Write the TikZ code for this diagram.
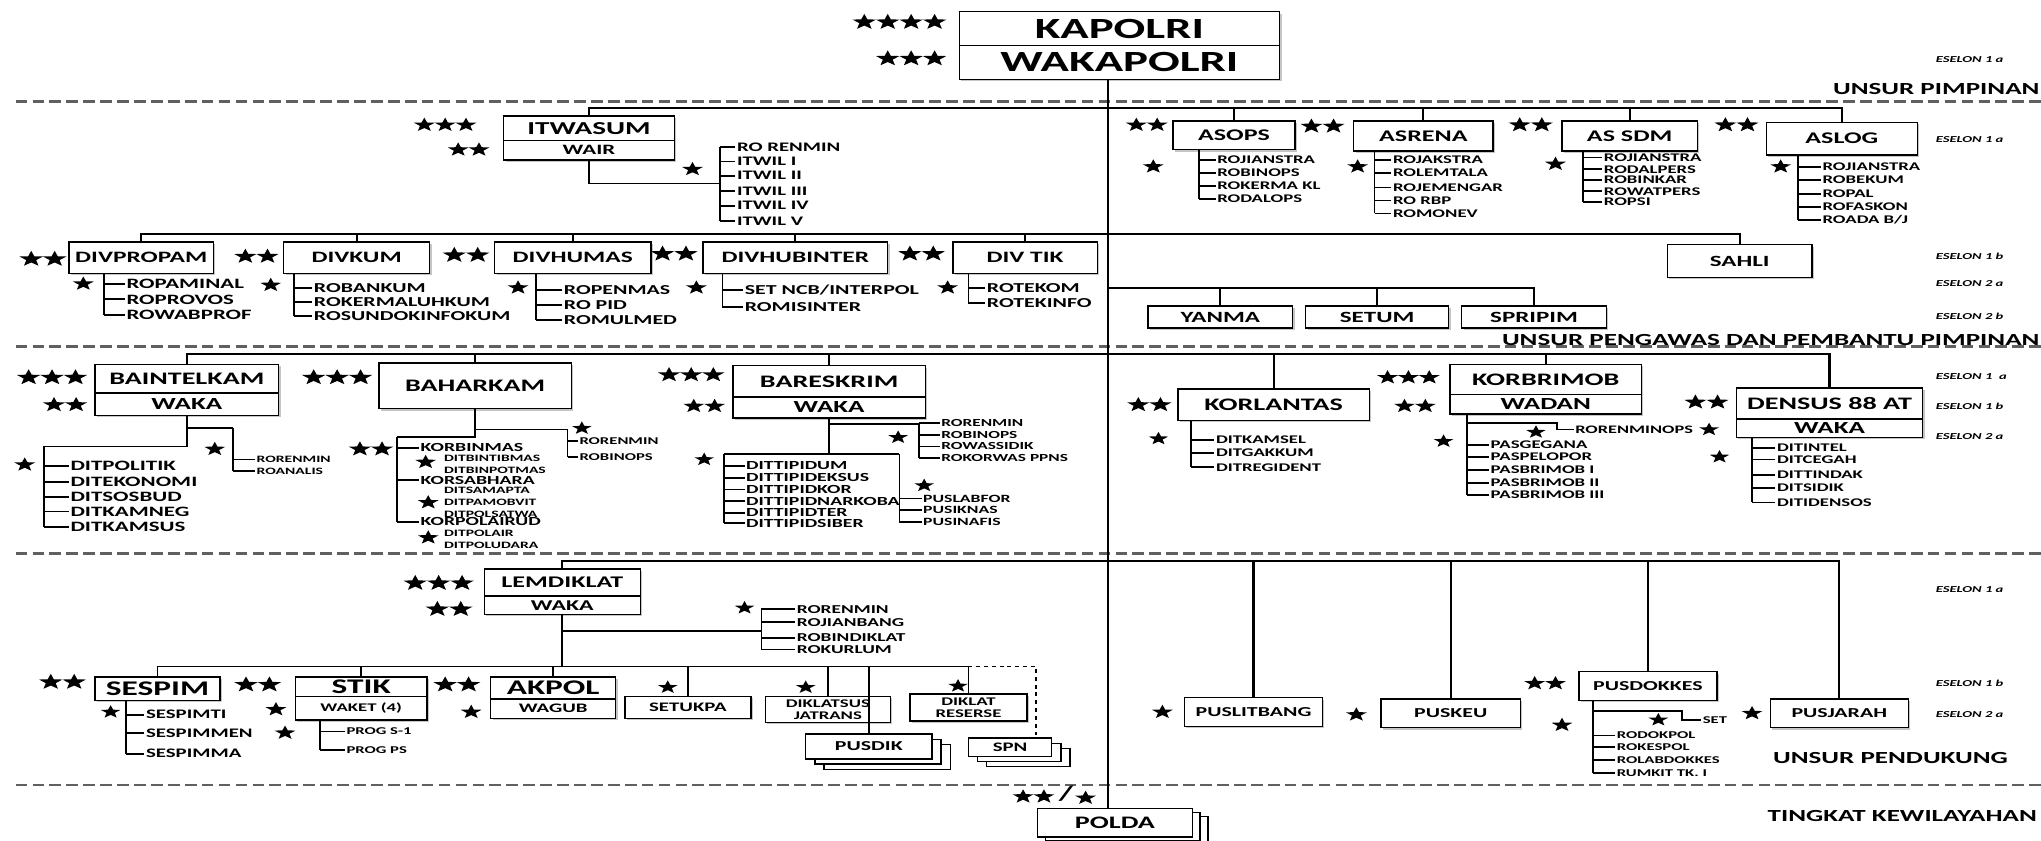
\documentclass[tikz,border=0pt]{standalone}
\usepackage{fontspec}
\usetikzlibrary{shadows}
\newfontfamily\cf{Carlito}[FakeStretch=1.6]
\newcommand\fsz[1]{\fontsize{#1}{#1}\selectfont}
\tikzset{
 conn/.style={line width=1.4pt, black},
 bus/.style={line width=1.7pt, black},
 mainl/.style={line width=1.8pt, black},
 dline/.style={line width=2pt, gray!75!black, dash pattern=on 9pt off 4pt},
 boxbase/.style={draw, line width=1.1pt, fill=white, inner sep=0pt},
 shd/.style={drop shadow={shadow xshift=1.5pt, shadow yshift=-1.5pt, opacity=.45}},
 stk/.style={general shadow={shadow xshift=14pt, shadow yshift=-8pt, draw, fill=white, line width=1pt},
             general shadow={shadow xshift=7pt, shadow yshift=-4pt, draw, fill=white, line width=1pt}},
 stkp/.style={general shadow={shadow xshift=12pt, shadow yshift=-6pt, draw, fill=white, line width=1pt},
             general shadow={shadow xshift=6pt, shadow yshift=-3pt, draw, fill=white, line width=1pt}},
 sub/.style={inner sep=1pt, anchor=west},
 lab/.style={inner sep=0pt, font=\cf\bfseries\fsz{13}},
 esl/.style={inner sep=0pt, font=\cf\bfseries\itshape\fsz{7}, anchor=west},
}
% box by corners: [opts]{name}{x1}{y1}{x2}{y2}{size}{text}
\newcommand\bx[8][shd]{\node[boxbase,#1,minimum width={#5-#3},minimum height={#6-#4},font=\cf\bfseries\fsz{#7}] (#2) at ({(#3+#5)/2},{(#4+#6)/2}) {#8};}
% list: {prefix}{top point}{bracket x}{text x}{size}{y/text,...}
\newcommand\sublist[6]{%
 \coordinate (#1-x) at (#3,0);
 \foreach \yy/\txt [count=\i] in {#6} {
   \node[sub, font=\cf\bfseries\fsz{#5}] (#1-\i) at (#4,\yy) {\txt};
   \draw[conn] (#1-\i.west -| #1-x) -- (#1-\i.west);
   \xdef\slLast{#1-\i}
 }
 \draw[conn] (#2 -| #1-x) -- (\slLast.west -| #1-x);
}
% row of drawn stars: [width per star]{cx,cy}{n}
\newcommand\strow[3][17]{%
 \pgfmathsetmacro\sR{#1/2.853}\pgfmathsetmacro\sI{0.42*\sR}%
 \foreach \k in {1,...,#3}{%
  \pgfmathsetmacro\dx{-(#3+1)*#1/2+\k*#1}%
  \fill[black,shift={(#2)},shift={(\dx,0)},xscale=1.5] (-90:\sR) -- (-54:\sI) -- (-18:\sR) -- (18:\sI) -- (54:\sR) -- (90:\sI) -- (126:\sR) -- (162:\sI) -- (198:\sR) -- (234:\sI) -- cycle;}%
}
\begin{document}
\begin{tikzpicture}[x=1pt,y=-1pt]
\useasboundingbox (0,0) rectangle (1568,646);
\fill[white] (0,0) rectangle (1568,646);
% dashed separators
\foreach \yy in {78,266,425,603} \draw[dline] (12,\yy) -- (1568,\yy);
% ---------- top
\bx{kap}{737}{9}{983}{35}{22.5}{KAPOLRI}
\bx{wakap}{737}{35}{983}{61}{22.5}{WAKAPOLRI}
% ---------- section 2 : boxes
\bx{itw}{387}{89}{518}{108}{14}{ITWASUM}
\bx{wair}{387}{108}{518}{123}{11}{WAIR}
\bx{asops}{901}{93}{995}{115}{12.5}{ASOPS}
\bx{asrena}{1040}{93}{1147}{116}{12.5}{ASRENA}
\bx{assdm}{1200}{93}{1304}{116}{12.5}{AS SDM}
\bx{aslog}{1357}{94}{1473}{119}{12.5}{ASLOG}
\bx{divpropam}{53}{186}{164}{210}{12.2}{DIVPROPAM}
\bx{divkum}{218}{186}{330}{210}{12.2}{DIVKUM}
\bx{divhumas}{380}{186}{500}{210}{12.2}{DIVHUMAS}
\bx{divhubinter}{540}{186}{682}{210}{12.2}{DIVHUBINTER}
\bx{divtik}{732}{186}{843}{210}{12.2}{DIV TIK}
\bx{sahli}{1281}{188}{1392}{213}{12}{SAHLI}
\bx{yanma}{882}{235}{993}{252}{12}{YANMA}
\bx{setum}{1003}{235}{1113}{252}{12}{SETUM}
\bx{spripim}{1123}{235}{1234}{252}{12}{SPRIPIM}
% ---------- section 3 : boxes
\bx{baintel}{73}{280}{214}{302}{13.5}{BAINTELKAM}
\bx{baintelw}{73}{302}{214}{319}{13}{WAKA}
\bx{bahar}{291}{279}{439}{314}{13.5}{BAHARKAM}
\bx{bares}{563}{281}{711}{305}{13.5}{BARESKRIM}
\bx{baresw}{563}{305}{711}{321}{13}{WAKA}
\bx{korl}{905}{299}{1052}{323}{13.5}{KORLANTAS}
\bx{korb}{1114}{280}{1261}{303}{13.5}{KORBRIMOB}
\bx{korbw}{1114}{303}{1261}{318}{13}{WADAN}
\bx{dens}{1334}{298}{1477}{322}{13.5}{DENSUS 88 AT}
\bx{densw}{1334}{322}{1477}{336}{13}{WAKA}
% ---------- section 4 : boxes
\bx{lemd}{372}{437}{492}{458}{12.5}{LEMDIKLAT}
\bx{lemdw}{372}{458}{492}{472}{11.5}{WAKA}
\bx{sespim}{73}{520}{169}{538}{16}{SESPIM}
\bx{stik}{227}{520}{328}{535}{16}{STIK}
\bx{stikw}{227}{535}{328}{553}{9}{WAKET (4)}
\bx{akpol}{377}{520}{473}{537}{16}{AKPOL}
\bx{akpolw}{377}{537}{473}{552}{10}{WAGUB}
\bx{setukpa}{480}{535}{577}{552}{10}{SETUKPA}
\bx[shd,align=center]{diklatsus}{588}{535}{684}{555}{9}{DIKLATSUS\\JATRANS}
\bx[stk]{pusdik}{619}{564}{716}{583}{10.5}{PUSDIK}
\bx[shd,align=center]{dikres}{699}{533}{789}{554}{9}{DIKLAT\\RESERSE}
\bx[stk]{spn}{744}{567}{808}{581}{10}{SPN}
\bx{puslit}{910}{536}{1016}{558}{10.5}{PUSLITBANG}
\bx{puskeu}{1061}{537}{1168}{559}{10.5}{PUSKEU}
\bx{pusdok}{1213}{516}{1319}{538}{10.5}{PUSDOKKES}
\bx{pusjar}{1360}{537}{1466}{559}{10.5}{PUSJARAH}
\bx[stkp]{polda}{797}{621}{916}{643}{13.5}{POLDA}
% ---------- main vertical
\coordinate (mx) at (851,0);
\draw[mainl] (wakap.south -| mx) -- (polda.north -| mx);
% ---------- buses
\coordinate (b1) at (0,83);
\draw[bus] (itw.north) |- (b1 -| aslog.north) -- (aslog.north);
\foreach \n in {asops,asrena,assdm} \draw[bus] (\n.north) -- (\n.north |- b1);
\coordinate (b2) at (0,180);
\draw[bus] (divpropam.north) |- (b2 -| sahli.north) -- (sahli.north);
\foreach \n in {divkum,divhumas,divhubinter,divtik} \draw[bus] (\n.north) -- (\n.north |- b2);
\coordinate (b3) at (851,221);
\draw[conn] (b3) -| (spripim.north);
\foreach \n in {yanma,setum} \draw[conn] (\n.north) -- (\n.north |- b3);
\coordinate (b4) at (0,272);
\draw[bus] (baintel.north) |- (b4 -| dens.north) -- (dens.north);
\foreach \n in {bahar,bares,korl,korb} \draw[bus] (\n.north) -- (\n.north |- b4);
\coordinate (b5) at (0,431);
\draw[bus] (lemd.north) |- (b5 -| pusjar.north) -- (pusjar.north);
\foreach \n in {puslit,puskeu,pusdok} \draw[bus] (\n.north) -- (\n.north |- b5);
\coordinate (b6) at (0,512);
\draw[conn] (lemdw.south) -- (lemdw.south |- b6);
\draw[conn] (sespim.north) |- (b6 -| dikres.north) -- (dikres.north);
\foreach \n in {stik,akpol,setukpa,diklatsus,pusdik} \draw[conn] (\n.north) -- (\n.north |- b6);
\coordinate (spnx) at (796,0);
\draw[conn,dashed] (b6 -| dikres.north) -| (spn.north -| spnx);
% ---------- section 2 lists
\sublist{itwl}{itwl-1.west}{553}{565}{10}{113/RO RENMIN,124/ITWIL I,135/ITWIL II,147/ITWIL III,158/ITWIL IV,170/ITWIL V}
\coordinate (itwj) at (553,141);
\draw[conn] (wair.south) |- (itwj);
\sublist{aops}{asops.south}{921}{934}{9}{123/ROJIANSTRA,133/ROBINOPS,143/ROKERMA KL,153/RODALOPS}
\sublist{aren}{asrena.south}{1056}{1069}{9}{123/ROJAKSTRA,133/ROLEMTALA,144/ROJEMENGAR,154/RO RBP,164/ROMONEV}
\sublist{asdm}{assdm.south}{1216}{1231}{9}{121/ROJIANSTRA,130/RODALPERS,138/ROBINKAR,147/ROWATPERS,155/ROPSI}
\sublist{alog}{aslog.south}{1381}{1399}{9}{128/ROJIANSTRA,138/ROBEKUM,149/ROPAL,159/ROFASKON,169/{ROADA B/J}}
\sublist{dpr}{divpropam.south}{80}{96}{11}{218/ROPAMINAL,230/ROPROVOS,242/ROWABPROF}
\sublist{dkum}{divkum.south}{226}{240}{10.5}{221/ROBANKUM,232/ROKERMALUHKUM,243/ROSUNDOKINFOKUM}
\sublist{dhum}{divhumas.south}{412}{432}{10.5}{223/ROPENMAS,234/RO PID,246/ROMULMED}
\sublist{dhub}{divhubinter.south}{555}{571}{10.5}{223/{SET NCB/INTERPOL},236/ROMISINTER}
\sublist{dtik}{divtik.south}{744}{757}{10.5}{221/ROTEKOM,233/ROTEKINFO}
% ---------- section 3 lists
\coordinate (bij) at (34,343);
\draw[conn] (baintelw.south) |- (bij);
\sublist{bint}{bij}{34}{53}{11}{358/DITPOLITIK,370/DITEKONOMI,382/DITSOSBUD,393/DITKAMNEG,405/DITKAMSUS}
\coordinate (bij2) at (179,329);
\draw[conn] (baintelw.south |- bij2) -- (bij2);
\sublist{bint2}{bij2}{179}{196}{7.5}{353/RORENMIN,362/ROANALIS}
\coordinate (bhj) at (305,336);
\draw[conn] (bahar.south) |- (bhj);
\sublist{bhk}{bhj}{305}{322}{9.5}{344/KORBINMAS,369/KORSABHARA,401/KORPOLAIRUD}
\foreach \yy/\txt [count=\i] in {352/DITBINTIBMAS,361/DITBINPOTMAS,377/DITSAMAPTA,386/DITPAMOBVIT,395/DITPOLSATWA,410/DITPOLAIR,419/DITPOLUDARA}
  \node[sub, font=\cf\bfseries\fsz{7.5}] (bhd-\i) at (340,\yy) {\txt};
\coordinate (bhj2) at (436,330);
\draw[conn] (bahar.south |- bhj2) -- (bhj2);
\sublist{bhr}{bhj2}{436}{444}{8}{339/RORENMIN,351/ROBINOPS}
\coordinate (brj2) at (706,326);
\draw[conn] (baresw.south |- brj2) -- (brj2);
\sublist{brr}{brj2}{706}{722}{8.3}{325/RORENMIN,334/ROBINOPS,343/ROWASSIDIK,352/ROKORWAS PPNS}
\coordinate (brjL) at (556,349);
\coordinate (brjR) at (691,349);
\draw[conn] (baresw.south) -- (baresw.south |- brjL);
\draw[conn] (brjL) -- (brjR);
\sublist{brl}{brjL}{556}{572}{9.5}{358/DITTIPIDUM,367/DITTIPIDEKSUS,376/DITTIPIDKOR,385/DITTIPIDNARKOBA,394/DITTIPIDTER,402/DITTIPIDSIBER}
\sublist{brp}{brjR}{691}{708}{8.5}{383/PUSLABFOR,392/PUSIKNAS,401/PUSINAFIS}
\sublist{korls}{korl.south}{915}{933}{9}{338/DITKAMSEL,348/DITGAKKUM,359/DITREGIDENT}
\sublist{korbs}{korbw.south}{1127}{1144}{9}{342/PASGEGANA,351/PASPELOPOR,361/PASBRIMOB I,371/PASBRIMOB II,380/PASBRIMOB III}
\coordinate (kbj) at (1196,325);
\node[sub, font=\cf\bfseries\fsz{8.8}] (korbr) at (1209,330) {RORENMINOPS};
\draw[conn] (kbj -| korbs-x) -- (kbj) |- (korbr.west);
\sublist{densl}{densw.south}{1346}{1364}{9}{344/DITINTEL,353/DITCEGAH,365/DITTINDAK,375/DITSIDIK,386/DITIDENSOS}
% ---------- section 4 lists
\coordinate (lj) at (585,485);
\draw[conn] (lemdw.south |- lj) -- (lj);
\sublist{lems}{lems-1.west}{585}{611}{9.3}{468/RORENMIN,478/ROJIANBANG,490/ROBINDIKLAT,499/ROKURLUM}
\sublist{sesp}{sespim.south}{97}{111}{10}{549/SESPIMTI,563/SESPIMMEN,579/SESPIMMA}
\sublist{stks}{stikw.south}{246}{265}{8}{562/PROG S-1,576/PROG PS}
\sublist{pds}{pusdok.south}{1224}{1241}{8}{565/RODOKPOL,574/ROKESPOL,584/ROLABDOKKES,594/RUMKIT TK. I}
\coordinate (pdj) at (1292,546);
\node[sub, font=\cf\bfseries\fsz{8}] (pdset) at (1307,553) {SET};
\draw[conn] (pdj -| pds-x) -- (pdj) |- (pdset.west);
% ---------- stars
\strow[18]{691,17}{4}\strow[18]{700,45}{3}
\strow[16]{342,96}{3}\strow[16]{360,115}{2}\strow[16]{532,130}{1}
\strow[16]{881,96}{2}\strow[16]{886,128}{1}\strow[17]{1016,97}{2}\strow[16]{1043,128}{1}
\strow[17]{1176,96}{2}\strow[16]{1195,126}{1}\strow[17]{1334,96}{2}\strow[16]{1368,128}{1}
\strow[18]{33,199}{2}\strow[17]{197,197}{2}\strow[18]{358,196}{2}\strow[18]{518,195}{2}\strow[18]{708,195}{2}
\strow[16]{64,218}{1}\strow[16]{208,219}{1}\strow[16]{398,221}{1}\strow[16]{535,221}{1}\strow[16]{728,221}{1}
\strow[18]{40,290}{3}\strow[17]{50,311}{2}\strow[16]{19,357}{1}\strow[16]{165,345}{1}
\strow[18]{259,290}{3}\strow[17]{285,345}{2}\strow[16]{327,355}{1}\strow[16]{329,386}{1}\strow[16]{329,413}{1}\strow[15]{447,329}{1}
\strow[17]{531,288}{3}\strow[16]{541,312}{2}\strow[15]{690,336}{1}\strow[15]{541,353}{1}\strow[15]{710,373}{1}
\strow[17]{883,311}{2}\strow[15]{890,337}{1}
\strow[16]{1082,290}{3}\strow[16]{1087,312}{2}\strow[15]{1180,332}{1}\strow[15]{1313,330}{1}\strow[15]{1109,339}{1}
\strow[17]{1311,309}{2}\strow[15]{1321,351}{1}
\strow[18]{337,448}{3}\strow[18]{345,468}{2}\strow[15]{572,467}{1}
\strow[18]{48,524}{2}\strow[15]{85,547}{1}\strow[16]{219,563}{1}\strow[18]{198,526}{2}\strow[16]{212,545}{1}
\strow[18]{351,526}{2}\strow[16]{362,547}{1}\strow[15]{513,528}{1}\strow[15]{619,528}{1}\strow[15]{736,527}{1}
\strow[16]{893,547}{1}\strow[16]{1042,549}{1}\strow[16]{1187,525}{2}\strow[16]{1200,557}{1}\strow[15]{1274,553}{1}\strow[16]{1346,548}{1}
\strow[16]{794,612}{2}\strow[16]{834,613}{1}
\node[inner sep=0pt, font=\cf\bfseries\fsz{16}] (slash) at (819,610) {/};
% ---------- labels
\node[esl] (e1) at (1487,46) {ESELON 1 a};
\node[esl] (e2) at (1487,107) {ESELON 1 a};
\node[esl] (e3) at (1487,197) {ESELON 1 b};
\node[esl] (e4) at (1487,218) {ESELON 2 a};
\node[esl] (e5) at (1487,243) {ESELON 2 b};
\node[esl] (e6) at (1487,289) {ESELON 1~ a};
\node[esl] (e7) at (1487,312) {ESELON 1 b};
\node[esl] (e8) at (1487,335) {ESELON 2 a};
\node[esl] (e9) at (1487,453) {ESELON 1 a};
\node[esl] (e10) at (1487,525) {ESELON 1 b};
\node[esl] (e11) at (1487,549) {ESELON 2 a};
\node[lab, anchor=east] (l1) at (1567,68) {UNSUR PIMPINAN};
\node[lab, anchor=east] (l2) at (1567,261) {UNSUR PENGAWAS DAN PEMBANTU PIMPINAN};
\node[lab, anchor=west] (l3) at (1362,582) {UNSUR PENDUKUNG};
\node[lab, anchor=east] (l4) at (1565,627) {TINGKAT KEWILAYAHAN};
\end{tikzpicture}
\end{document}
